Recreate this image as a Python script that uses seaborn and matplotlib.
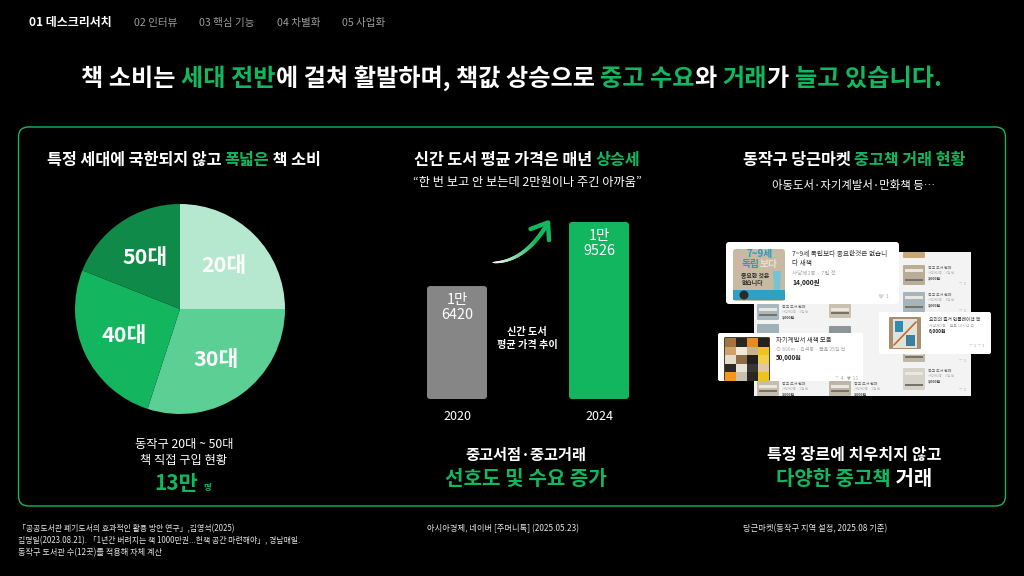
import numpy as np
import seaborn as sns
from matplotlib import pyplot as plt
from matplotlib.collections import LineCollection
from matplotlib.colors import to_rgb
from matplotlib.patches import Circle, FancyBboxPatch, Rectangle, Polygon
from matplotlib.transforms import IdentityTransform

# data
age_labels = ['20대', '30대', '40대', '50대']
age_shares = [25, 30, 26, 19]
age_colors = ['#b6e8cf', '#5ccf94', '#13b55f', '#0f8a48']

years = ['2020', '2024']
prices = [16420, 19526]
price_labels = ['1만\n6420', '1만\n9526']
bar_colors = ['#868686', '#12b65f']
price_floor = 10945   # the bars in the slide start well above zero

nav_items = ['01 데스크리서치', '02 인터뷰', '03 핵심 기능', '04 차별화', '05 사업화']
nav_x = [29, 134, 199, 277, 342]

GREEN = '#12b75e'
WHITE = '#ffffff'

sns.set_theme(style='dark', rc={'figure.facecolor': 'black', 'axes.facecolor': 'black',
                                'savefig.facecolor': 'black'})
plt.rcParams['font.family'] = ['Noto Sans CJK KR', 'DejaVu Sans']

W, H = 1024, 576
fig = plt.figure(figsize=(W / 100, H / 100), dpi=100)

# whole-slide axes in pixel coordinates, for text and the screenshot collage
bg = fig.add_axes([0, 0, 1, 1], zorder=1)
bg.set_xlim(0, W)
bg.set_ylim(H, 0)
bg.axis('off')
rend = fig.canvas.get_renderer()


def px_axes(x0, y0, x1, y1, **kw):
    return fig.add_axes([x0 / W, 1 - y1 / H, (x1 - x0) / W, (y1 - y0) / H], **kw)


def width_of(s, size, weight):
    # trailing spaces get dropped when measuring so add a sentinel
    t = bg.text(0, 0, s + '|', fontsize=size, fontweight=weight)
    a = t.get_window_extent(rend).width
    t.set_text('|')
    b = t.get_window_extent(rend).width
    t.remove()
    return a - b


def line(x, cy, runs, size, weight='medium', ha='center', z=10):
    """one line made of (text, colour) runs, cy = vertical middle in px"""
    if isinstance(runs, str):
        runs = [(runs, WHITE)]
    widths = [width_of(r[0], size, weight) for r in runs]
    left = x - sum(widths) / 2 if ha == 'center' else x
    base = cy + size / 0.72 * 0.36
    for (s, c), w_ in zip(runs, widths):
        bg.text(left, base, s, fontsize=size, fontweight=weight, color=c,
                ha='left', va='baseline', zorder=z)
        left += w_


def rrect(x0, y0, x1, y1, fc, r=2, z=3, ec='none', lw=0):
    p = FancyBboxPatch((x0 + r, y0 + r), x1 - x0 - 2 * r, y1 - y0 - 2 * r,
                       boxstyle='round,pad=%f,rounding_size=%f' % (r, r),
                       fc=fc, ec=ec, lw=lw, zorder=z)
    bg.add_patch(p)
    return p


def rect(x0, y0, x1, y1, fc, z=5):
    bg.add_patch(Rectangle((x0, y0), x1 - x0, y1 - y0, fc=fc, ec='none', zorder=z))


# top navigation and headline
for i, (item, x) in enumerate(zip(nav_items, nav_x)):
    if i == 0:
        line(x, 22, [(item, WHITE)], 8.6, 'bold', ha='left')
    else:
        line(x, 22, [(item, '#9c9c9c')], 7.6, 'medium', ha='left')

line(511.5, 77, [('책 소비는 ', WHITE), ('세대 전반', GREEN), ('에 걸쳐 활발하며, 책값 상승으로 ', WHITE),
                 ('중고 수요', GREEN), ('와 ', WHITE), ('거래', GREEN), ('가 ', WHITE),
                 ('늘고 있습니다.', GREEN)], 17.4, 'bold')

rrect(18.5, 127, 1005.5, 506, 'none', r=10, z=2, ec=GREEN, lw=1)

# column headings
line(184, 159, [('특정 세대에 국한되지 않고 ', WHITE), ('폭넓은', GREEN), (' 책 소비', WHITE)], 11.7, 'bold')
line(527, 159, [('신간 도서 평균 가격은 매년 ', WHITE), ('상승세', GREEN)], 11.7, 'bold')
line(854, 159, [('동작구 당근마켓 ', WHITE), ('중고책 거래 현황', GREEN)], 11.7, 'bold')
line(527, 182, '“한 번 보고 안 보는데 2만원이나 주긴 아까움”', 8.8, 'regular')
line(854, 185, '아동도서·자기계발서·만화책 등…', 8.2, 'regular')

# pie
ax_pie = px_axes(70, 199, 290, 419, zorder=2)
wedges, labels = ax_pie.pie(age_shares, labels=age_labels, colors=age_colors, startangle=90,
                            counterclock=False, radius=1, labeldistance=0.59,
                            wedgeprops={'linewidth': 0},
                            textprops={'color': WHITE, 'fontsize': 15.5, 'fontweight': 'bold'})
for t in labels:
    t.set_ha('center')
    t.set_va('center')
ax_pie.set_xlim(-110 / 105, 110 / 105)
ax_pie.set_ylim(-110 / 105, 110 / 105)

line(184, 444, '동작구 20대 ~ 50대', 8.8)
line(184, 460, '책 직접 구입 현황', 8.8)
line(176, 483, [('13만', GREEN)], 15, 'bold')
line(207, 487, [('명', GREEN)], 6, 'bold')

# bars
ax_bar = px_axes(386, 222, 670, 399, zorder=2)
sns.barplot(x=years, y=prices, hue=years, palette=bar_colors, legend=False, width=60 / 142,
            saturation=1, linewidth=0, ax=ax_bar)
ax_bar.set_ylim(price_floor, prices[1])
ax_bar.set_xlim(-0.5, 1.5)
ax_bar.patch.set_alpha(0)
ax_bar.yaxis.set_visible(False)
ax_bar.xaxis.label.set_visible(False)
ax_bar.tick_params(axis='x', length=0, pad=8, colors=WHITE, labelsize=9)
ax_bar.grid(False)
sns.despine(ax=ax_bar, left=True, bottom=True)
fig.canvas.draw()
for bar in ax_bar.patches:
    if bar.get_height() == 0 or np.isnan(bar.get_height()):
        continue
    bb = bar.get_window_extent()
    y0 = ax_bar.bbox.y0
    clip = FancyBboxPatch((bb.x0 + 3, y0 + 3), bb.width - 6, bb.y1 - y0 - 6,
                          boxstyle='round,pad=3,rounding_size=3', transform=IdentityTransform())
    bar.set_clip_path(clip)
for i, (v, lab) in enumerate(zip(prices, price_labels)):
    ax_bar.annotate(lab, (i, v), xytext=(0, -5), textcoords='offset points', ha='center', va='top',
                    color=WHITE, fontsize=10.4, fontweight='medium', linespacing=1.1)

line(527, 331, '신간 도서', 7.3, 'bold')
line(527, 344, '평균 가격 추이', 7.3, 'bold')

# rising arrow, white tail fading into green
p0, p1, p2 = np.array([493, 262.5]), np.array([525, 262]), np.array([548, 223])
tt = np.linspace(0, 1, 50)
curve = np.outer((1 - tt) ** 2, p0) + np.outer(2 * tt * (1 - tt), p1) + np.outer(tt ** 2, p2)
segs = np.stack([curve[:-1], curve[1:]], axis=1)
c0, c1 = np.array(to_rgb('#ffffff')), np.array(to_rgb(GREEN))
cols = [c0 + (c1 - c0) * min(1, s * 1.35) for s in tt[:-1]]
bg.add_collection(LineCollection(segs, colors=cols, linewidths=0.8 + 2.4 * np.sqrt(tt[:-1]),
                                 capstyle='round', zorder=4))
bg.plot([530.5, 548, 549], [229, 222.5, 240], color=GREEN, lw=3.2, solid_capstyle='round',
        solid_joinstyle='round', zorder=4)

# bottom captions
line(526, 454, '중고서점·중고거래', 11, 'bold')
line(526, 478, [('선호도 및 수요 증가', GREEN)], 14.5, 'bold')
line(854, 454, '특정 장르에 치우치지 않고', 11.6, 'bold')
line(854, 478, [('다양한 중고책', GREEN), (' 거래', WHITE)], 14.4, 'bold')

# footnotes
foot = '#e6e6e6'
line(18, 528, [('「공공도서관 폐기도서의 효과적인 활용 방안 연구」,김영석(2025)', foot)], 5.7, 'regular', ha='left')
line(18, 540, [('김명일(2023.08.21). 「1년간 버려지는 책 1000만권...헌책 공간 마련해야」, 경남매일.', foot)], 5.7, 'regular', ha='left')
line(18, 552, [('동작구 도서관 수(12곳)를 적용해 자체 계산', foot)], 5.9, 'regular', ha='left')
line(427, 528, [('아시아경제, 네이버 [주머니톡] (2025.05.23)', foot)], 5.95, 'regular', ha='left')
line(743, 528, [('당근마켓(동작구 지역 설정, 2025.08 기준)', foot)], 5.95, 'regular', ha='left')

# screenshot collage: list panel behind three cards
card_boxes = [(726, 242, 899, 304), (879, 312, 991, 354), (718, 333, 863, 381)]
rect(754, 252, 971, 396, '#f3f3f3', z=3)
thumbs = [(757, 304, 320, '#a9b8bf'), (757, 324, 336, '#9fb2b8'), (757, 381, 396, '#c5bcab'),
          (829, 304, 318, '#c9c0ae'), (829, 326, 336, '#8f969a'), (829, 381, 396, '#bdb6a8'),
          (903, 252, 258, '#c9a878'), (903, 265, 285, '#b9ad98'), (903, 292, 312, '#a6b4bb'),
          (903, 348, 362, '#bfb7a6'), (903, 368, 390, '#d5d2ca')]
for tx, t0, t1, tone in thumbs:
    rrect(tx, t0, tx + 22, t1, tone, r=1, z=3.2)
    if t1 - t0 > 12:
        rect(tx + 2, t0 + 4, tx + 20, t0 + 7, '#ecE7dc', z=3.3)
        rect(tx + 2, t0 + (t1 - t0) - 6, tx + 20, t0 + (t1 - t0) - 4, '#77736a', z=3.3)
    # row text, only where no card sits on top of it
    box = (tx + 25, t0, tx + 62, t0 + 14)
    hidden = any(box[0] < c[2] and box[2] > c[0] and box[1] < c[3] and box[3] > c[1] for c in card_boxes)
    if not hidden and t1 - t0 > 12:
        bg.text(tx + 25, t0 + 3, '중고 도서 판매', fontsize=2.8, color='#666666', va='center', zorder=3.3)
        bg.text(tx + 25, t0 + 8, '사당제2동 · 3일 전', fontsize=2.4, color='#b5b5b5', va='center', zorder=3.3)
        bg.text(tx + 25, t0 + 13, '3,000원', fontsize=2.6, color='#444444', va='center', fontweight='bold', zorder=3.3)
for cx, cy in [(963, 284), (963, 311), (963, 361), (963, 390)]:
    bg.text(cx, cy, '♡ 1', fontsize=2.8, color='#aaaaaa', ha='center', va='center', zorder=3.3,
            family=['DejaVu Sans'])

# card 1
rrect(726, 242, 899, 304, WHITE, r=3, z=4)
rrect(733, 249, 785, 301, '#c8b9a2', r=3, z=5)
rect(733, 290, 785, 300, '#2f9fc2', z=5.1)
bg.add_patch(Polygon([[773, 271], [781, 271], [780, 290], [774, 290]], fc='#74c4d6', ec='none', zorder=5.1))
bg.add_patch(Circle((744, 295), 4.5, fc='#2a2a2a', ec='none', zorder=5.2))
bg.text(760, 254.5, '7~9세', fontsize=7, color='#1f9fc4', fontweight='bold', ha='center', va='center', zorder=6)
bg.text(751, 264, '독립', fontsize=7, color='#1f9fc4', fontweight='bold', ha='center', va='center', zorder=6)
bg.text(769, 264, '보다', fontsize=7, color='#e7e0d4', fontweight='bold', ha='center', va='center', zorder=6)
bg.text(755, 276, '중요한 것은', fontsize=4.2, color='#2b2b2b', fontweight='bold', ha='center', va='center', zorder=6)
bg.text(752, 283, '없습니다', fontsize=4.2, color='#2b2b2b', fontweight='bold', ha='center', va='center', zorder=6)
line(792, 254, [('7~9세 독립보다 중요한것은 없습니', '#333333')], 4.8, ha='left')
line(792, 263, [('다 새책', '#333333')], 4.8, ha='left')
line(792, 272, [('사당제2동 · 7일 전', '#a8a8a8')], 4, 'regular', ha='left')
line(792, 282, [('14,000원', '#222222')], 4.8, 'bold', ha='left')
bg.text(881, 297, '♥', fontsize=5, color='#d8d8d8', ha='center', va='center', zorder=6, family=['DejaVu Sans'])
bg.text(887, 297, '1', fontsize=3.5, color='#aaaaaa', ha='center', va='center', zorder=6)

# card 2
rrect(879, 312, 991, 354, WHITE, r=2, z=4)
rrect(889, 317, 921, 349, '#a98d6d', r=1, z=5)
rect(893, 319, 917, 348, '#dfe3dc', z=5.1)
rect(895, 321, 903, 332, '#2e8cb0', z=5.2)
rect(906, 335, 915, 346, '#3c7f9e', z=5.2)
bg.plot([894, 916], [345, 322], color='#c9682c', lw=1.2, zorder=5.3)
line(929, 319, [('요리의 즐거 인플레이션 책', '#333333')], 3.4, ha='left')
line(929, 325, [('사당제2동 · 끌올 10시간 전', '#a8a8a8')], 2.8, 'regular', ha='left')
line(929, 331, [('6,000원', '#222222')], 3.4, 'bold', ha='left')
bg.text(977, 346, '♡ 1 ♡ 1', fontsize=2.8, color='#aaaaaa', ha='center', va='center', zorder=6, family=['DejaVu Sans'])

# card 3
rrect(718, 333, 863, 381, WHITE, r=2, z=4)
rrect(724, 337, 770, 381, '#4b4036', r=1.5, z=5)
tiles = [['#a5733f', '#2a2623', '#e88a1e', '#23201d'],
         ['#cfa26b', '#f0eadc', '#c7b48e', '#efc21f'],
         ['#e6ddc9', '#8d6c45', '#221f1c', '#f1d14a'],
         ['#2c2a28', '#e9e4d8', '#3a3634', '#dfc9a0'],
         ['#f09a1d', '#c9c2b2', '#2b2723', '#efc21f']]
for r_, row in enumerate(tiles):
    for c_, col in enumerate(row):
        rect(725 + c_ * 11, 338 + r_ * 8.6, 725 + (c_ + 1) * 11, 338 + (r_ + 1) * 8.6, col, z=5.1)
line(776, 340, [('자기계발서 새책 모음', '#333333')], 4.6, ha='left')
line(776, 349, [('⊙ 890m · 흑석동 · 끌올 25일 전', '#a8a8a8')], 3.6, 'regular', ha='left')
line(776, 357, [('50,000원', '#222222')], 4.4, 'bold', ha='left')
bg.text(847, 378, '♡ 4  ♥ 11', fontsize=3.4, color='#aaaaaa', ha='center', va='center', zorder=6, family=['DejaVu Sans'])

fig.savefig('out.png', dpi=100)
